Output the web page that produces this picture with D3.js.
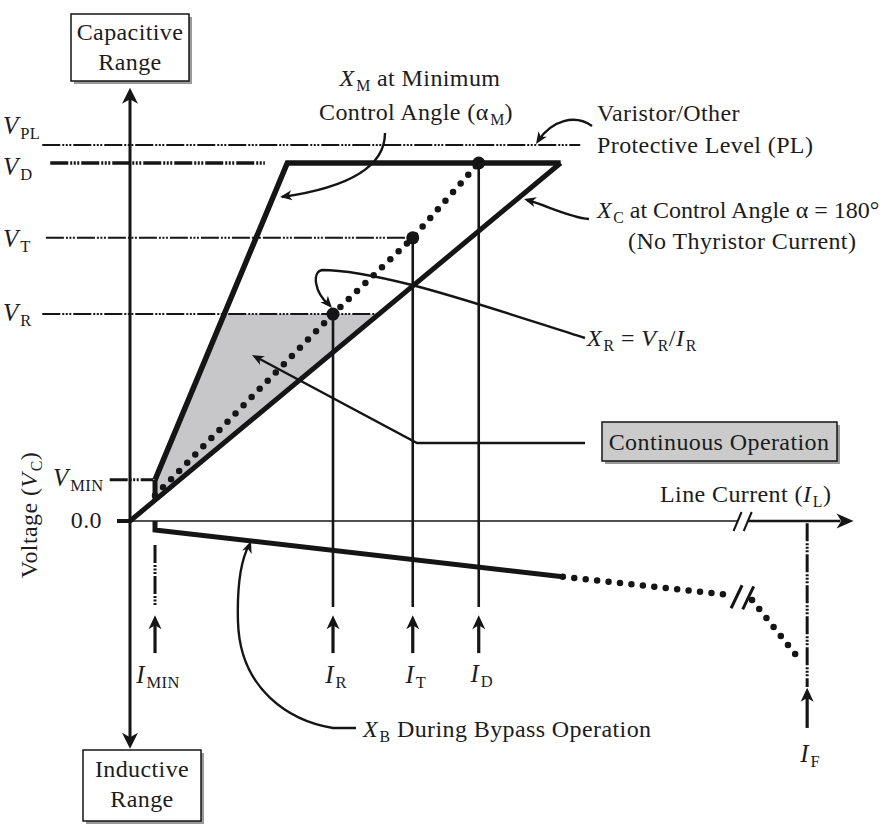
<!DOCTYPE html>
<html><head><meta charset="utf-8">
<script src="https://cdn.jsdelivr.net/npm/d3@7"></script>
<style>
body{margin:0;background:#fff;}
svg text{font-family:"Liberation Serif","Times New Roman",serif;fill:#1c1c1c;letter-spacing:0.4px;}
</style></head><body>
<svg id="chart" width="889" height="832"></svg>
<script>
// ---- Voltage levels (capacitor voltage, % of V_D) ----
const levelNames  = ["PL", "D", "T", "R", "MIN"];
const levelValues = [105, 100, 79.1, 57.8, 11.5];
const levelFrom   = [-12.1, -11.0, -11.6, -12.1, -2.8];   // line-current units where each guide starts
const levelTo     = [62.1, 18.6, 39.0, 34.3, 3.2];        // ... and where it ends

// ---- Line-current markers ----
const currentNames  = ["MIN", "R", "T", "D", "F"];
const currentValues = [3.45, 28.0, 39.0, 48.1, 93.4];

// ---- Characteristic curves (line current, voltage) ----
const xcLine  = [[0, 0], [59.4, 100]];                         // X_C, alpha = 180 deg
const xmLine  = [[3.45, 11.5], [21.7, 100], [59.4, 100]];      // X_M, then V_D limit
const xrLine  = [[3.45, 7.1], [28.0, 57.8], [39.0, 79.1], [48.1, 100]]; // X_R operating line
const opPoints = [[28.0, 57.8], [39.0, 79.1], [48.1, 100]];    // (I_R,V_R) (I_T,V_T) (I_D,V_D)
const xbSolid = [[3.45, 0], [3.45, -2.5], [59.7, -15.6]];      // bypass reactance
const xbDot1  = [[59.7, -15.6], [83.0, -20.7]];
const xbDot2  = [[85.8, -22.1], [92.4, -38.8]];
const axisBreak = 84.6;

const svg = d3.select("#chart");
const x = d3.scaleLinear().domain([0, 100]).range([130, 855]);
const y = d3.scaleLinear().domain([0, 100]).range([521, 163]);
const line = d3.line().x(d => x(d[0])).y(d => y(d[1]));
const INK = "#151515";
const dashDot = "18 2 2 1.5 2 1.5 2 2";
const FS = 24;

// filled barbed arrow head with its tip at `tip`, pointing away from `from`
function arrowHead(g, tip, from, L = 13, Wd = 10) {
  const a = Math.atan2(tip[1] - from[1], tip[0] - from[0]) * 180 / Math.PI;
  g.append("path")
    .attr("d", `M0,0 L${-L},${-Wd/2} L${-L*0.72},0 L${-L},${Wd/2} Z`)
    .attr("transform", `translate(${tip[0]},${tip[1]}) rotate(${a})`)
    .attr("fill", INK);
}

// text built from runs: [string, kind] kind: n normal, i italic, s subscript
function rich(g, px, py, runs, size = FS, anchor = "start") {
  const t = g.append("text").attr("x", px).attr("y", py)
    .attr("font-size", size).attr("text-anchor", anchor);
  let shifted = false;
  runs.forEach(([s, k]) => {
    const ts = t.append("tspan").text(s);
    if (k === "i") ts.attr("font-style", "italic");
    if (k === "s") {
      ts.attr("font-size", size * 0.66);
      if (!shifted) { ts.attr("dy", 5).attr("dx", 1.5); shifted = true; }
    } else if (shifted) { ts.attr("dy", -5); shifted = false; }
  });
  return t;
}

const gShade = svg.append("g"), gGuide = svg.append("g"), gMain = svg.append("g"),
      gAnn = svg.append("g"), gText = svg.append("g");

// ---- shaded continuous-operation region ----
const vR = levelValues[3], vMin = levelValues[4], iMin = currentValues[0];
const xmAt = v => xmLine[0][0] + (v - xmLine[0][1]) / (xmLine[1][1] - xmLine[0][1]) * (xmLine[1][0] - xmLine[0][0]);
const xcSlope = xcLine[1][1] / xcLine[1][0];
gShade.append("path")
  .attr("d", line([[iMin, vMin], [xmAt(vR), vR], [vR / xcSlope, vR], [iMin, iMin * xcSlope]]) + "Z")
  .attr("fill", "#c7c7ca");

// ---- voltage guide lines ----
const guideWidth = [2, 3.5, 2, 2, 3];
levelValues.forEach((v, i) => {
  gGuide.append("line")
    .attr("x1", x(levelFrom[i])).attr("x2", x(levelTo[i]))
    .attr("y1", y(v)).attr("y2", y(v))
    .attr("stroke", INK).attr("stroke-width", guideWidth[i])
    .attr("stroke-dasharray", dashDot);
});

// ---- axes ----
// vertical (voltage) axis with arrows both ways
gMain.append("line").attr("x1", x(0)).attr("x2", x(0)).attr("y1", y(118)).attr("y2", y(-61))
  .attr("stroke", INK).attr("stroke-width", 3);
arrowHead(gMain, [x(0), y(121)], [x(0), y(100)], 16, 16);
arrowHead(gMain, [x(0), y(-63.6)], [x(0), y(0)], 16, 16);
// horizontal (line current) axis, broken before the fault range
gMain.append("line").attr("x1", x(0)).attr("x2", x(axisBreak - 0.8)).attr("y1", y(0)).attr("y2", y(0))
  .attr("stroke", INK).attr("stroke-width", 1.6);
gMain.append("line").attr("x1", x(axisBreak + 0.6)).attr("x2", x(98)).attr("y1", y(0)).attr("y2", y(0))
  .attr("stroke", INK).attr("stroke-width", 2.6);
arrowHead(gMain, [x(99.8), y(0)], [x(0), y(0)], 17, 15);
[-0.8, 0.6].forEach(o => {
  gMain.append("line")
    .attr("x1", x(axisBreak + o) - 4).attr("y1", y(0) + 10)
    .attr("x2", x(axisBreak + o) + 4).attr("y2", y(0) - 9)
    .attr("stroke", INK).attr("stroke-width", 2);
});
// 0.0 tick
gMain.append("line").attr("x1", x(0) - 13).attr("x2", x(0)).attr("y1", y(0)).attr("y2", y(0))
  .attr("stroke", INK).attr("stroke-width", 4);

// ---- characteristic curves ----
gMain.append("path").attr("d", line(xcLine)).attr("fill", "none")
  .attr("stroke", INK).attr("stroke-width", 5);
gMain.append("path").attr("d", line(xmLine)).attr("fill", "none")
  .attr("stroke", INK).attr("stroke-width", 5.5).attr("stroke-linejoin", "miter");
gMain.append("line").attr("x1", x(iMin)).attr("x2", x(iMin))
  .attr("y1", y(vMin)).attr("y2", y(iMin * xcSlope))
  .attr("stroke", INK).attr("stroke-width", 5);
gMain.append("path").attr("d", line(xrLine)).attr("fill", "none")
  .attr("stroke", INK).attr("stroke-width", 6.5).attr("stroke-linecap", "round")
  .attr("stroke-dasharray", "0 11.5");
gMain.append("path").attr("d", line(xbSolid)).attr("fill", "none")
  .attr("stroke", INK).attr("stroke-width", 5).attr("stroke-linejoin", "miter");
[xbDot1, xbDot2].forEach(seg => {
  gMain.append("path").attr("d", line(seg)).attr("fill", "none")
    .attr("stroke", INK).attr("stroke-width", 6.5).attr("stroke-linecap", "round")
    .attr("stroke-dasharray", "0 11.5");
});
// break marks on the bypass curve
[[83.6, -21.3], [85.2, -21.6]].forEach(([a, b]) => {
  gMain.append("line")
    .attr("x1", x(a) - 5).attr("y1", y(b) + 11).attr("x2", x(a) + 6).attr("y2", y(b) - 12)
    .attr("stroke", INK).attr("stroke-width", 3);
});

// ---- operating points and their current markers ----
opPoints.forEach(p => {
  gMain.append("line").attr("x1", x(p[0])).attr("x2", x(p[0]))
    .attr("y1", y(p[1])).attr("y2", y(-24))
    .attr("stroke", INK).attr("stroke-width", 2.6);
  gMain.append("circle").attr("cx", x(p[0])).attr("cy", y(p[1])).attr("r", 6.5).attr("fill", INK);
});
// dash-dot drop lines at I_MIN and I_F
gMain.append("line").attr("x1", x(currentValues[0])).attr("x2", x(currentValues[0]))
  .attr("y1", y(-6.7)).attr("y2", y(-23.5))
  .attr("stroke", INK).attr("stroke-width", 3).attr("stroke-dasharray", dashDot);
gMain.append("line").attr("x1", x(currentValues[4])).attr("x2", x(currentValues[4]))
  .attr("y1", y(-0.6)).attr("y2", y(-46.4))
  .attr("stroke", INK).attr("stroke-width", 3).attr("stroke-dasharray", dashDot);

// upward arrows beneath each current marker
const arrowTip  = [-26.3, -26.3, -26.3, -26.3, -46.6];
const arrowTail = [-36.9, -36.9, -36.9, -36.9, -57.8];
currentValues.forEach((c, i) => {
  gMain.append("line").attr("x1", x(c)).attr("x2", x(c))
    .attr("y1", y(arrowTip[i]) + 8).attr("y2", y(arrowTail[i]))
    .attr("stroke", INK).attr("stroke-width", 3.2);
  arrowHead(gMain, [x(c), y(arrowTip[i])], [x(c), y(arrowTail[i])], 14, 13);
});

// ---- callout leaders ----
function leader(d, tip, from) {
  gAnn.append("path").attr("d", d).attr("fill", "none")
    .attr("stroke", INK).attr("stroke-width", 2.4);
  arrowHead(gAnn, tip, from, 12, 10);
}
leader("M385,133 C385,168 345,188 282,197", [280, 197], [300, 194]);
leader("M592,126 C575,114 552,120 538,141", [536, 144], [542, 135]);
leader("M589,219 C568,217 546,205 527,200", [524, 199], [535, 202]);
leader("M585,338 C540,324 470,300 412,285 C380,277 345,270 322,270 C312,272 314,292 329,305", [332, 308], [325, 300]);
leader("M585,443 L417,443 L256,357", [252, 355], [265, 362]);
leader("M356,728 L333,728 C290,721 240,690 238,622 C237,588 240,562 249,545", [251, 541], [247, 552]);

// ---- range boxes ----
function box(x0, y0, w, h, fill) {
  gText.append("rect").attr("x", x0 + 3).attr("y", y0 + 3).attr("width", w).attr("height", h).attr("fill", "#9a9a9a");
  gText.append("rect").attr("x", x0).attr("y", y0).attr("width", w).attr("height", h)
    .attr("fill", fill).attr("stroke", INK).attr("stroke-width", 1.5);
}
box(71, 14, 118, 67, "#fff");
rich(gText, 130, 40, [["Capacitive", "n"]], FS, "middle");
rich(gText, 130, 70, [["Range", "n"]], FS, "middle");
box(83, 750, 118, 71, "#fff");
rich(gText, 142, 777, [["Inductive", "n"]], FS, "middle");
rich(gText, 142, 807, [["Range", "n"]], FS, "middle");
box(602, 422, 235, 39, "#cbcbcb");
rich(gText, 719, 450, [["Continuous Operation", "n"]], FS, "middle");

// ---- voltage level labels ----
const levelLabelX = [3, 3, 3, 3, 53];
const levelLabelY = [134, 175, 247, 321, 486];
levelNames.forEach((n, i) => {
  rich(gText, levelLabelX[i], levelLabelY[i], [["V", "i"], [n, "s"]], 25);
});
rich(gText, 102, 528, [["0.0", "n"]], FS, "end");
gText.append("g").attr("transform", "translate(37,515) rotate(-90)").call(g =>
  rich(g, 0, 0, [["Voltage (", "n"], ["V", "i"], ["C", "s"], [")", "n"]], FS, "middle"));

// ---- current labels ----
const curLabelY = [683, 683, 683, 682, 762];
currentNames.forEach((n, i) => {
  rich(gText, x(currentValues[i]) + 3, curLabelY[i], [["I", "i"], [n, "s"]], 25, "middle");
});
rich(gText, 660, 502, [["Line Current (", "n"], ["I", "i"], ["L", "s"], [")", "n"]], FS);

// ---- callout texts ----
rich(gText, 420, 86, [["X", "i"], ["M", "s"], [" at Minimum", "n"]], FS, "middle");
rich(gText, 416, 120, [["Control Angle (\u03b1", "n"], ["M", "s"], [")", "n"]], FS, "middle");
rich(gText, 597, 121, [["Varistor/Other", "n"]], FS);
rich(gText, 597, 153, [["Protective Level (PL)", "n"]], FS);
rich(gText, 597, 218, [["X", "i"], ["C", "s"], [" at Control Angle \u03b1 = 180\u00b0", "n"]], FS)
  .style("letter-spacing", "0px");
rich(gText, 628, 249, [["(No Thyristor Current)", "n"]], FS);
rich(gText, 587, 346, [["X", "i"], ["R", "s"], [" = ", "n"], ["V", "i"], ["R", "s"], ["/", "n"], ["I", "i"], ["R", "s"]], FS);
rich(gText, 363, 737, [["X", "i"], ["B", "s"], [" During Bypass Operation", "n"]], FS);
</script>
</body></html>
